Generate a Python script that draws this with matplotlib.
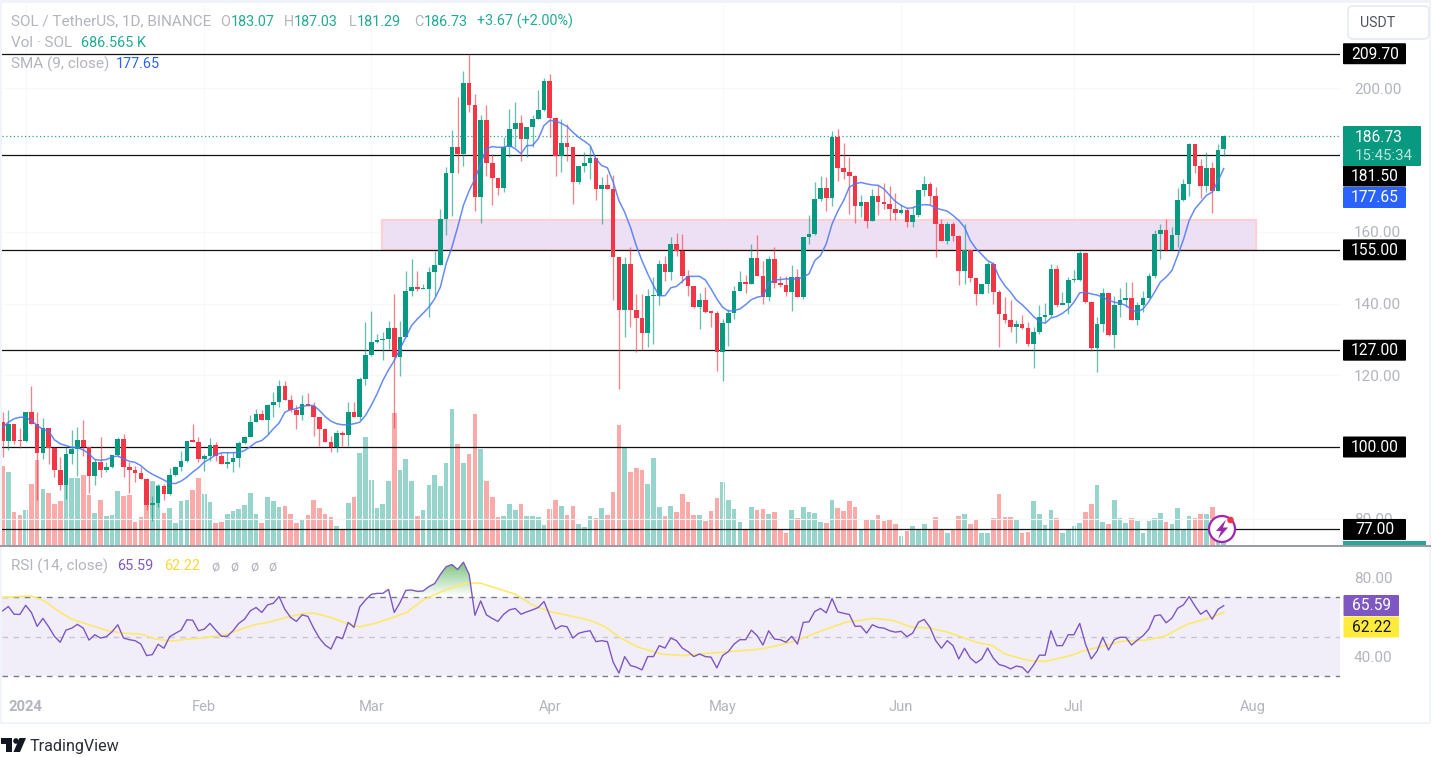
import numpy as np
import pandas as pd
import matplotlib
matplotlib.use("Agg")
import matplotlib.pyplot as plt
from matplotlib.patches import Rectangle, Circle, Polygon, FancyBboxPatch
from matplotlib.colors import LinearSegmentedColormap

plt.rcParams['font.family'] = ['Roboto', 'DejaVu Sans']

first_day = '2023-12-28'
first_open = 107.1
closes = [
101.8,106.3,101.8,101.7,109.9,106.5,98.3,105.2,99.8,93.6,
89.4,98.0,99.5,102.0,99.9,91.9,95.9,93.6,94.4,97.7,
102.3,94.3,93.6,92.8,91.1,83.7,84.4,89.1,86.8,92.3,
94.4,96.0,101.8,101.5,96.7,97.6,100.6,97.6,95.3,95.8,
97.0,101.1,102.9,107.1,109.1,107.5,111.6,112.5,117.0,113.2,
110.3,108.9,112.1,111.5,108.4,104.9,101.5,99.9,104.0,103.3,
109.9,108.3,119.0,125.8,129.2,129.9,130.1,133.2,125.2,130.8,
143.6,144.6,144.0,144.2,148.8,150.8,163.6,176.5,183.8,181.7,
201.6,195.5,169.7,191.3,179.2,174.9,172.3,183.6,188.6,190.3,
186.0,189.4,191.6,193.9,202.2,191.7,181.1,184.9,183.6,174.0,
178.4,179.3,180.5,172.1,173.0,172.1,152.9,138.2,151.1,138.2,
135.9,131.7,142.0,142.2,151.1,148.7,156.7,154.6,147.6,144.8,
139.0,141.1,137.6,137.5,126.6,134.7,137.5,143.6,146.0,145.6,
152.8,147.8,141.8,152.5,145.8,145.2,143.2,147.4,141.8,158.5,
159.3,169.1,172.2,169.5,186.4,177.8,176.6,175.7,167.2,168.3,
163.0,170.0,168.3,167.8,166.4,165.2,166.0,162.7,164.6,171.7,
173.4,169.9,162.2,157.4,162.1,158.8,149.0,155.0,147.1,142.7,
145.5,151.1,143.1,137.0,135.3,133.4,134.3,133.2,128.6,132.2,
136.4,136.7,149.7,139.5,140.1,146.5,146.6,154.0,140.4,127.6,
134.2,142.9,131.3,139.7,141.1,141.7,135.3,139.5,141.7,147.6,
159.3,160.4,155.0,159.0,168.8,173.4,184.4,178.5,172.7,177.9,
171.4,182.9,186.73]
highs = [
109.7,110.2,106.3,105.3,109.9,117.0,109.9,108.1,105.2,100.1,
97.2,99.9,104.8,105.5,107.4,99.9,96.7,102.9,95.8,97.7,
102.9,103.7,95.8,94.7,94.4,91.3,86.2,89.7,89.7,94.2,
94.6,99.0,101.8,106.5,102.9,98.1,102.6,101.3,98.3,98.6,
98.6,101.6,103.2,108.8,110.6,110.2,112.0,115.3,118.7,118.5,
114.4,111.6,114.4,115.0,112.5,108.4,105.2,103.2,104.8,104.6,
112.5,112.5,119.5,134.8,137.8,131.5,132.0,135.1,142.7,135.1,
149.2,152.5,149.2,145.5,150.3,154.8,166.4,178.1,188.5,197.6,
205.0,209.7,198.5,192.7,195.3,181.8,175.1,186.6,194.3,196.2,
192.5,189.4,192.5,199.6,203.0,204.1,192.0,191.5,190.0,183.8,
178.5,182.2,184.1,180.5,175.3,176.2,175.9,153.1,153.1,155.7,
142.7,142.7,144.1,147.4,152.2,153.4,158.5,159.7,159.4,149.4,
144.8,142.9,144.6,137.8,137.8,135.7,138.5,144.9,149.2,148.1,
156.7,159.0,152.0,153.2,155.7,147.8,147.6,150.8,149.7,158.5,
164.6,173.9,175.7,175.3,188.1,188.6,184.7,180.8,175.9,170.2,
168.3,172.0,173.1,173.7,172.7,170.8,167.4,166.7,167.1,171.7,
175.5,173.9,172.5,163.5,162.9,162.7,159.0,162.1,155.0,147.1,
145.5,151.6,151.6,143.8,141.8,141.1,135.3,136.7,135.0,133.4,
139.7,140.3,151.1,150.8,143.2,147.4,149.5,154.6,154.3,140.6,
136.4,144.3,142.9,142.0,144.3,146.0,146.0,140.4,143.5,148.5,
160.4,162.2,163.6,161.5,172.2,174.8,184.8,184.6,180.4,182.2,
179.4,184.6,187.03]
lows = [
97.2,99.2,100.7,99.8,101.5,106.5,85.1,96.7,95.3,91.6,
87.9,85.4,95.3,92.0,97.6,87.2,89.5,91.6,93.0,94.2,
97.2,91.6,87.1,90.2,91.1,82.3,79.3,83.2,85.3,86.5,
92.0,93.4,95.9,101.3,95.9,93.3,96.2,96.2,95.3,94.1,
93.0,94.4,100.9,102.7,106.9,107.4,103.5,108.3,111.1,113.0,
109.7,105.1,107.6,111.4,103.2,100.4,101.5,98.5,98.5,100.4,
100.4,108.3,107.5,117.4,125.5,129.0,124.3,127.4,105.2,119.9,
130.6,142.0,143.5,144.0,136.4,142.2,150.9,159.0,164.4,176.4,
178.5,193.4,165.8,162.4,175.7,167.6,170.4,171.1,180.8,183.6,
179.9,180.8,183.6,191.5,193.7,186.4,175.7,176.7,179.9,167.8,
173.4,176.7,174.8,168.9,162.1,172.1,141.0,116.2,130.6,133.6,
126.4,127.1,127.8,128.8,139.6,146.4,146.6,153.2,145.7,142.1,
138.8,132.8,137.3,133.4,121.3,118.5,128.3,135.7,143.6,142.9,
145.5,147.8,139.9,140.7,144.4,144.6,142.2,137.9,141.8,141.3,
156.5,159.0,168.7,165.8,167.1,174.3,174.8,165.0,162.4,164.1,
161.0,163.0,164.6,166.4,163.4,163.4,165.0,161.3,161.5,164.1,
169.9,167.4,153.0,157.4,156.5,157.4,145.3,145.5,146.0,139.6,
142.7,142.9,139.9,128.0,134.5,132.0,129.0,133.0,128.3,122.1,
131.6,134.8,136.4,139.0,139.7,137.0,146.0,146.2,140.1,126.9,
120.9,132.2,131.1,127.6,136.4,139.0,135.3,133.9,137.6,141.6,
147.2,152.5,154.6,155.0,155.9,168.5,169.9,176.5,169.5,171.1,
165.2,171.4,181.29]
volumes_m = [
15.9,14.7,6.6,6.0,7.0,12.2,17.0,11.2,10.4,8.2,
8.8,12.3,13.5,13.5,14.0,10.0,6.4,9.0,5.8,6.0,
10.8,9.8,10.0,4.6,5.7,9.0,12.9,12.0,6.4,7.4,
4.4,8.8,9.0,11.0,13.4,10.2,8.6,4.4,4.6,6.2,
6.8,7.2,8.0,10.4,6.2,4.4,9.6,8.8,7.6,7.8,
6.2,4.5,5.0,6.0,9.0,7.4,6.2,5.6,3.8,3.2,
8.5,9.7,18.5,21.7,13.1,7.5,8.3,12.8,26.5,15.0,
17.3,12.8,5.9,7.1,12.1,14.0,11.9,16.5,27.3,20.3,
16.5,18.3,26.3,19.3,12.8,9.7,5.7,5.9,8.3,7.1,
8.3,5.9,5.9,5.7,4.1,7.3,9.1,7.9,6.1,7.9,
4.3,3.7,5.9,5.5,7.5,6.1,10.7,24.1,19.5,14.6,
15.5,15.0,12.3,17.5,7.7,5.9,7.9,6.7,10.3,8.7,
6.1,6.1,4.9,6.9,9.5,12.6,9.1,7.3,4.7,3.3,
7.7,7.1,7.3,6.3,6.7,3.3,2.5,7.1,5.5,7.7,
6.7,6.5,4.7,4.5,9.1,7.5,6.9,8.9,7.7,3.2,
5.0,5.2,6.1,4.9,5.2,4.3,1.8,2.9,3.8,3.2,
4.3,3.2,5.7,3.0,2.4,3.0,5.8,6.3,4.3,5.2,
2.4,2.4,5.5,10.3,5.7,5.7,5.2,2.4,2.7,8.9,
6.3,4.1,7.0,5.5,2.4,3.2,3.8,4.4,6.7,8.3,
12.0,4.7,4.3,9.0,5.5,4.4,5.5,4.9,2.4,4.9,
5.5,6.4,4.7,4.3,7.5,3.2,5.8,5.5,6.3,6.3,
7.7,4.5,0.687]
sma9 = [
105.5,106.9,107.9,108.3,108.3,107.4,106.0,104.9,104.4,102.0,
100.9,100.4,99.9,99.8,99.2,98.1,96.5,96.3,96.5,97.2,
97.5,96.7,96.0,95.7,94.8,93.4,92.4,91.6,90.8,89.9,
89.8,90.5,91.6,93.0,94.2,95.8,96.7,97.8,98.4,98.4,
98.4,98.5,99.0,100.1,101.3,101.8,103.2,105.1,106.7,109.7,
110.4,110.7,111.3,111.6,111.6,110.2,108.5,107.2,106.5,106.2,
106.2,106.5,106.9,108.8,111.6,114.8,118.5,121.5,124.1,127.4,
130.6,133.9,135.7,137.3,139.0,141.3,144.6,151.1,155.7,161.3,
167.4,171.5,174.8,179.0,183.2,183.8,183.6,183.6,184.1,183.2,
181.8,184.1,184.1,186.0,189.7,191.1,190.9,190.3,189.4,187.8,
186.4,185.3,184.1,180.4,178.5,177.9,173.9,168.7,165.5,161.3,
156.2,152.0,148.3,145.0,142.2,142.2,144.4,144.8,146.2,147.6,
147.6,147.6,146.6,144.1,141.3,139.0,137.9,138.1,138.5,139.7,
141.1,141.8,142.1,145.5,146.6,146.7,146.9,146.9,146.9,147.4,
148.3,152.0,153.4,156.7,162.2,165.8,168.7,172.5,173.4,173.8,
173.4,173.1,173.0,172.0,170.2,168.5,167.4,166.6,166.7,167.4,
167.6,167.5,166.7,166.2,165.8,164.6,163.2,161.3,157.6,155.3,
153.7,152.0,151.1,147.4,145.0,143.2,141.0,139.7,138.1,136.4,
135.0,134.5,136.0,136.4,137.3,138.5,140.4,143.0,143.2,142.7,
142.4,141.8,140.9,140.4,140.1,139.5,138.3,137.6,138.5,140.6,
143.2,146.0,147.4,149.2,153.4,157.8,163.2,166.4,168.3,170.2,
171.1,174.2,177.65]
rsi14 = [
63,65.2,61.3,61.2,65.8,62.2,55.2,59.2,55,50.2,
47.2,53.3,54.3,56.2,54.3,48.3,51,49.3,50,52.5,
56,49.3,48.5,48,46.3,40.5,41,46.2,44.2,50,
51.7,53.3,58.5,58.3,53,53.8,56.7,53.3,50.2,50.2,
53,56.7,58.8,63,64.7,62.2,66,66.8,70.2,63.8,
59.7,57.7,61,60.2,54.3,49.3,45.8,43.8,50,49,
57.2,54.7,65,68.5,71.3,71.8,71.8,73.8,62.2,67.2,
73.3,73.5,72.8,73,75.2,76.7,81.3,85.2,86.3,83.8,
87.5,81.3,60.8,68,61,59.2,57.7,61.3,63.5,64.2,
61.3,62.5,63.5,64.7,67.7,60.5,53.8,55.5,55,49.3,
51.7,52.5,53,47.5,48,47.5,37.2,31.7,40,35.5,
34.7,33.3,40,40,45.5,44.3,49.3,48,44.3,42.5,
40,41.3,40,39.7,34.3,40.5,42.5,46.3,48.5,48.5,
53.3,50.5,45.8,53,48.8,48.5,47.2,50.2,46.3,57.2,
57.5,62.7,64.2,62,69.2,62.5,61.8,61.2,55.2,55.3,
51.8,56,54.7,54.3,53,52.3,52.7,50,51.8,57.3,
58.7,54.7,48,44.2,48,45.5,38.8,44.2,39.3,36.8,
38.8,44.3,39.2,36,35.2,33.8,35.2,34.7,31.8,35.8,
40.7,40.7,53,45.5,45.5,51,51,56.7,46.3,38.8,
42.7,49.7,43.3,48.5,49.7,49.7,45.8,48.3,50.5,53.8,
60.5,61,57,59.3,64.3,66,70.2,65.5,61.3,63.3,
58.8,63.8,65.59]
rsi_ma_days = [
-0.4,2.65,5,7.3,9.6,12,15,18.2,21.3,24,26.7,29.4,32.1,34.4,36.8,39.1,41.4,43.7,46.1,49.2,
52.3,54.2,57,59.6,62,64.7,67.8,70.1,73.2,77.1,80.2,82.9,86.4,89.1,91.8,94.9,98,101.9,104.6,
107.3,110.4,114.3,118.2,120.9,125.1,131.7,134.9,137.8,142.2,146.3,151.2,154.4,157.7,160.9,
164.2,169.1,171.9,174,178.1,180.9,185.4,187.4,191,194.3,198.4,201.6,205.7,209.8,212]
rsi_ma = [
69.7,70.2,70.5,68,63,58.8,56,53,51.7,51.3,48.8,47.8,48.8,49.3,50.2,51.3,53.8,56,57.2,59.7,
61.7,61.8,59.7,56.8,55,56.7,59.7,62.2,68.8,73.8,76.8,77,73.8,71.3,66.3,62.7,60.8,58.3,55,
49.3,44.7,41.3,40.5,41.3,42.2,43.8,45.8,48,53,57.2,59.2,58.3,55,54.3,
52.2,47.2,45.5,41.3,38,37.5,40.5,42.7,45.2,47.7,48.3,50,56.3,59.7,62.22]
level_prices = [209.70, 181.50, 155.00, 127.00, 100.00, 77.00]
zone_low, zone_high = 155.0, 163.2
zone_start, zone_end = 65.9, 217.6
last_price = 186.73
price_ticks = [80, 120, 140, 160, 200]
rsi_ticks = [40, 80]
rsi_bands = [70, 50, 30]
month_starts = ['2024-01-01', '2024-02-01', '2024-03-01', '2024-04-01', '2024-05-01', '2024-06-01', '2024-07-01', '2024-08-01']
month_labels = ['2024', 'Feb', 'Mar', 'Apr', 'May', 'Jun', 'Jul', 'Aug']

W, H = 1433, 757
GRAY = '#b2b5be'
GREEN, RED = '#089981', '#f23645'
VGREEN, VRED = '#97d5cc', '#f9aaa9'
LEFT, RIGHT = 2, 1340
STEP, X0 = 5.76, 2.6

fig = plt.figure(figsize=(W / 100, H / 100), dpi=100, facecolor='white')

def px_axes(x0, y0, x1, y1, **kw):
    return fig.add_axes([x0 / W, 1 - y1 / H, (x1 - x0) / W, (y1 - y0) / H], **kw)

ax_vol = px_axes(LEFT, 4, RIGHT, 545)
ax_pr = px_axes(LEFT, 4, RIGHT, 545)
ax_rsi = px_axes(LEFT, 548, RIGHT, 692)
ov = px_axes(0, 0, W, H)
ax_vol.set_zorder(1); ax_pr.set_zorder(2); ax_rsi.set_zorder(2); ov.set_zorder(5)
ax_pr.patch.set_visible(False); ov.patch.set_visible(False)
ov.set_xlim(0, W); ov.set_ylim(H, 0); ov.axis('off')

dates = pd.date_range(first_day, periods=len(closes), freq='D')
days = np.array((dates - dates[0]).days, dtype=float)
month_days = (pd.to_datetime(month_starts) - dates[0]).days.to_numpy()
closes_a = np.array(closes)
opens_a = np.r_[first_open, closes_a[:-1]]
opens_a[-1] = 183.07
up = closes_a >= opens_a

xlim = ((LEFT - X0) / STEP, (RIGHT - X0) / STEP)
for a in (ax_vol, ax_pr, ax_rsi):
    a.set_xlim(*xlim)
    for s in a.spines.values():
        s.set_visible(False)

# volume
ax_vol.bar(days, volumes_m, width=0.8, color=np.where(up, VGREEN, VRED), linewidth=0)
ax_vol.set_ylim(0, 541 * 0.2)
ax_vol.set_xticks([]); ax_vol.set_yticks([])

# price pane
ax_pr.set_ylim(200 - (544.5 - 88) / 3.585, 200 - (3.5 - 88) / 3.585)
ax_pr.yaxis.tick_right()
ax_pr.set_yticks(price_ticks)
ax_pr.set_yticklabels([f'{t:.2f}' for t in price_ticks], color=GRAY, fontsize=11)
ax_pr.tick_params(axis='y', length=0, pad=10)
ax_pr.set_xticks(month_days); ax_pr.set_xticklabels([])
ax_pr.tick_params(axis='x', length=0)
ax_pr.grid(True, color='#f7f8fa', lw=0.8, zorder=0)
ax_pr.set_axisbelow(True)

ax_pr.add_patch(Rectangle((zone_start, zone_low), zone_end - zone_start, zone_high - zone_low,
                          facecolor='#eee0f4', edgecolor='#fdd0d3', lw=1.6, zorder=1.5))
for lv in level_prices:
    ax_pr.axhline(lv, color='#111111', lw=0.9, zorder=2)
ax_pr.axhline(last_price, color='#26a69a', lw=0.9, ls=(0, (1, 2)), zorder=2)

colors = np.where(up, GREEN, RED)
ax_pr.vlines(days, lows, highs, colors=colors, lw=0.95, alpha=0.62, zorder=3)
body_lo = np.minimum(opens_a, closes_a)
body_h = np.maximum(np.abs(closes_a - opens_a), 0.35)
ax_pr.bar(days, body_h, bottom=body_lo, width=0.8, color=colors, linewidth=0, zorder=3.2)
ax_pr.plot(days, sma9, color='#4a78f6', lw=1.1, alpha=0.85, zorder=4, solid_joinstyle='round')

# RSI pane
v_top = 50 - (548 - 636.7) / 1.9875
v_bot = 50 - (692 - 636.7) / 1.9875
ax_rsi.set_ylim(v_bot, v_top)
ax_rsi.axhspan(rsi_bands[2], rsi_bands[0], color='#f1edf9', lw=0, zorder=0.5)
ax_rsi.axhline(rsi_bands[0], color='#787b86', lw=1, ls=(0, (4, 4)), zorder=1)
ax_rsi.axhline(rsi_bands[1], color='#c6c7cf', lw=1, ls=(0, (4, 4)), zorder=1)
ax_rsi.axhline(rsi_bands[2], color='#787b86', lw=1, ls=(0, (4, 4)), zorder=1)
rsi_a = np.array(rsi14)
fb = ax_rsi.fill_between(days, 70, rsi_a, where=rsi_a > 70, interpolate=True, facecolor='none', lw=0)
cm = LinearSegmentedColormap.from_list('g', [(0.3, 0.69, 0.31, 0.0), (0.3, 0.69, 0.31, 0.75)])
im = ax_rsi.imshow(np.linspace(1, 0, 64)[:, None], cmap=cm, aspect='auto', vmin=0, vmax=1,
                   extent=(days[0], days[-1], 70, max(rsi14)), zorder=1.5)
clip = matplotlib.path.Path.make_compound_path(*fb.get_paths())
im.set_clip_path(clip, transform=ax_rsi.transData)
ax_rsi.set_xlim(*xlim); ax_rsi.set_ylim(v_bot, v_top)
ax_rsi.plot(rsi_ma_days, rsi_ma, color='#fde968', lw=1.15, zorder=2)
ax_rsi.plot(days, rsi14, color='#7e57c2', lw=1.0, zorder=3)
ax_rsi.yaxis.tick_right()
ax_rsi.set_yticks(rsi_ticks)
ax_rsi.set_yticklabels([f'{t:.2f}' for t in rsi_ticks], color=GRAY, fontsize=11)
ax_rsi.tick_params(axis='y', length=0, pad=10)
ax_rsi.set_xticks(month_days)
ax_rsi.set_xticklabels(month_labels, color=GRAY, fontsize=10.6)
ax_rsi.get_xticklabels()[0].set_fontweight('bold')
ax_rsi.tick_params(axis='x', length=0, pad=6)

# frame lines
ov.add_patch(Rectangle((0, 0), 2.5, 722, fc='#f0f3fa', ec='none'))
ov.add_patch(Rectangle((0, 0), 1431, 2.5, fc='#f0f3fa', ec='none'))
ov.add_patch(Rectangle((1429.5, 0), 2, 722, fc='#f0f3fa', ec='none'))
ov.add_patch(Rectangle((0, 721.5), 1431, 2, fc='#f0f3fa', ec='none'))
ov.add_patch(Rectangle((0, 545.2), 1431, 1.8, fc='#9a9ca3', ec='none'))

# tags on the scale
def tag(yc, text, fc, tc='white', x0=1343, x1=1406, h=21):
    ov.add_patch(FancyBboxPatch((x0 + 1, yc - h / 2 + 1), x1 - x0 - 2, h - 2,
                                boxstyle='round,pad=1', fc=fc, ec='none', zorder=3))
    ov.text((x0 + x1) / 2 + 0.5, yc + 0.3, text, color=tc, fontsize=11.2, ha='center', va='center', zorder=4)

def price_y(value, ax=ax_pr):
    return H - ax.transData.transform((0, value))[1]

for lv in level_prices:
    if lv != 181.50:
        tag(price_y(lv), f'{lv:.2f}', '#000000')
tag(176, '181.50', '#000000')
tag(197.5, '177.65', '#2962ff')
ov.add_patch(FancyBboxPatch((1344, 127), 76, 38, boxstyle='round,pad=1', fc=GREEN, ec='none', zorder=3))
ov.text(1355, 137, '186.73', color='white', fontsize=11.2, va='center', zorder=4)
ov.text(1355, 155.5, '15:45:34', color='#b9e3dc', fontsize=10.8, va='center', zorder=4)
ov.add_patch(Rectangle((1343, 540.5), 83, 4.7, fc='#26a69a', ec='none', zorder=2))
tag(605.5, '65.59', '#7e57c2', x0=1343.5, x1=1399)
tag(627, '62.22', '#ffeb3b', tc='#131722', x0=1343.5, x1=1399)

# USDT button
ov.add_patch(FancyBboxPatch((1351, 9), 75, 27, boxstyle='round,pad=3,rounding_size=5',
                            fc='white', ec='#e8eaf3', lw=1.2))
ov.text(1360, 23, 'USDT', color='#50535e', fontsize=10.2, va='center')

# header
T = dict(fontsize=10.4, va='center')
L = dict(fontsize=10.95, va='center')
TEAL = '#22ab94'
ov.text(11, 21.5, 'SOL / TetherUS, 1D, BINANCE', color=GRAY, **L)
for x, s, c in [(220, 'O', GRAY), (231, '183.07', TEAL), (284, 'H', GRAY), (294, '187.03', TEAL),
                (349, 'L', GRAY), (357, '181.29', TEAL), (414, 'C', GRAY), (424, '186.73', TEAL),
                (477, '+3.67 (+2.00%)', TEAL)]:
    ov.text(x, 21.5, s, color=c, **T)
ov.text(11, 43, 'Vol · SOL', color=GRAY, **L)
ov.text(81, 43, '686.565 K', color=TEAL, **T)
ov.text(11, 64, 'SMA (9, close)', color=GRAY, **L)
ov.text(116, 64, '177.65', color='#2962ff', **T)
ov.text(11, 566.5, 'RSI (14, close)', color=GRAY, **L)
ov.text(117, 566.5, '65.59', color='#7e57c2', **T)
ov.text(164, 566.5, '62.22', color='#fdd835', **T)
for x in (211, 230, 250, 268):
    ov.text(x, 566.5, 'ø', color=GRAY, **T)

# bolt logo
ov.add_patch(Circle((1222, 529), 13, fc='white', ec='#9c27b0', lw=1.6, zorder=6))
ov.add_patch(Polygon([(1226, 519.5), (1216, 531), (1221, 531), (1218, 539),
                      (1228, 527.5), (1223, 527.5)], fc='#9c27b0', ec='none', zorder=7))
ov.add_patch(Circle((1230.5, 520), 3.3, fc='#f23645', ec='none', zorder=8))

# TradingView mark
ov.add_patch(Polygon([(1, 738), (12, 738), (12, 752), (6, 752), (6, 744), (1, 744)], fc='#131722', ec='none'))
ov.add_patch(Circle((16, 741), 2.8, fc='#131722', ec='none'))
ov.add_patch(Polygon([(19.5, 738), (26, 738), (20, 752), (13.5, 752)], fc='#131722', ec='none'))
ov.text(30, 746, 'TradingView', color='#2a2e39', fontsize=11.6, va='center')

fig.savefig('out.png', dpi=100, facecolor='white')
